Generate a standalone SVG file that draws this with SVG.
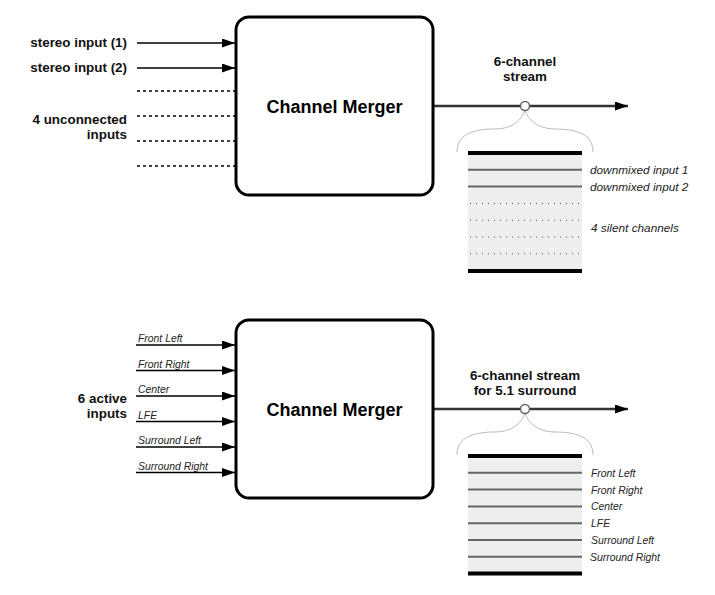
<svg xmlns="http://www.w3.org/2000/svg" width="715" height="595" viewBox="0 0 715 595">
<style>
.lbl{font-family:"Liberation Sans",Arial,sans-serif;font-weight:bold;font-size:13.4px;fill:#111}
.title{font-family:"Liberation Sans",Arial,sans-serif;font-weight:bold;font-size:18px;fill:#000}
.it{font-family:"Liberation Sans",Arial,sans-serif;font-style:italic;font-size:10.4px;fill:#222}
.it2{font-family:"Liberation Sans",Arial,sans-serif;font-style:italic;font-size:11.8px;fill:#222}
.box{fill:#fff;stroke:#000;stroke-width:3}
.in{stroke:#000;stroke-width:1.5;fill:none}
.dash{stroke:#000;stroke-width:1.5;stroke-dasharray:3 3;fill:none}
.out{stroke:#333;stroke-width:2.5;fill:none}
.brace{stroke:#bbb;stroke-width:1;fill:none}
.node{fill:#fff;stroke:#666;stroke-width:1.5}
.thick{stroke:#000;stroke-width:4}
.ch{stroke:#666;stroke-width:2}
.dot{stroke:#555;stroke-width:1;stroke-dasharray:1 5}
.stack{fill:#eee}
</style>
<defs>
<marker id="arr" markerUnits="userSpaceOnUse" markerWidth="13" markerHeight="9" refX="13" refY="4.5" orient="auto">
<path d="M0,0 L13,4.5 L0,9 z" fill="#000"/>
</marker>
</defs>
<rect width="715" height="595" fill="#fff"/>

<g id="connectors">
<line class="in" x1="137" y1="43" x2="235" y2="43" marker-end="url(#arr)"/>
<line class="in" x1="137" y1="68" x2="235" y2="68" marker-end="url(#arr)"/>
<line class="dash" x1="137" y1="91" x2="235" y2="91"/>
<line class="dash" x1="137" y1="116" x2="235" y2="116"/>
<line class="dash" x1="137" y1="141" x2="235" y2="141"/>
<line class="dash" x1="137" y1="166" x2="235" y2="166"/>
<line class="out" x1="434" y1="106" x2="628" y2="106" marker-end="url(#arr)"/>

<line class="in" x1="136" y1="345" x2="235" y2="345" marker-end="url(#arr)"/>
<line class="in" x1="136" y1="370.5" x2="235" y2="370.5" marker-end="url(#arr)"/>
<line class="in" x1="136" y1="396" x2="235" y2="396" marker-end="url(#arr)"/>
<line class="in" x1="136" y1="421.5" x2="235" y2="421.5" marker-end="url(#arr)"/>
<line class="in" x1="136" y1="447" x2="235" y2="447" marker-end="url(#arr)"/>
<line class="in" x1="136" y1="472.5" x2="235" y2="472.5" marker-end="url(#arr)"/>
<line class="out" x1="434" y1="409" x2="628" y2="409" marker-end="url(#arr)"/>
</g>

<g id="labels-top">
<text class="lbl" x="127" y="47" text-anchor="end">stereo input (1)</text>
<text class="lbl" x="127" y="72" text-anchor="end">stereo input (2)</text>
<text class="lbl" x="127" y="124" text-anchor="end">4 unconnected</text>
<text class="lbl" x="127" y="139" text-anchor="end">inputs</text>
<text class="lbl" x="525" y="66" text-anchor="middle">6-channel</text>
<text class="lbl" x="525" y="81" text-anchor="middle">stream</text>
</g>

<g id="merger1">
<rect class="box" x="236" y="17" width="197" height="178" rx="13"/>
<text class="title" x="334.5" y="113" text-anchor="middle">Channel Merger</text>
</g>

<g id="stream1">
<path class="brace" d="M457,152 C457,136 470,129 495,129 C512,129 522,120 525,110 C528,120 538,129 555,129 C580,129 593,136 593,152"/>
<circle class="node" cx="525" cy="106" r="4.5"/>
<rect class="stack" x="468" y="153" width="114" height="118"/>
<line class="thick" x1="468" y1="153" x2="582" y2="153"/>
<line class="ch" x1="468" y1="169.8" x2="582" y2="169.8"/>
<line class="ch" x1="468" y1="186.6" x2="582" y2="186.6"/>
<line class="dot" x1="470" y1="203.4" x2="582" y2="203.4"/>
<line class="dot" x1="470" y1="220.2" x2="582" y2="220.2"/>
<line class="dot" x1="470" y1="237" x2="582" y2="237"/>
<line class="dot" x1="470" y1="253.8" x2="582" y2="253.8"/>
<line class="thick" x1="468" y1="271" x2="582" y2="271"/>
<text class="it2" x="590" y="174">downmixed input 1</text>
<text class="it2" x="590" y="191">downmixed input 2</text>
<text class="it2" x="591" y="232">4 silent channels</text>
</g>

<g id="labels-bottom">
<text class="lbl" x="127" y="403" text-anchor="end">6 active</text>
<text class="lbl" x="127" y="418" text-anchor="end">inputs</text>
<text class="it" x="138" y="342">Front Left</text>
<text class="it" x="138" y="367.5">Front Right</text>
<text class="it" x="138" y="393">Center</text>
<text class="it" x="138" y="418.5">LFE</text>
<text class="it" x="138" y="444">Surround Left</text>
<text class="it" x="138" y="469.5">Surround Right</text>
<text class="lbl" x="525" y="380" text-anchor="middle">6-channel stream</text>
<text class="lbl" x="525" y="395" text-anchor="middle">for 5.1 surround</text>
</g>

<g id="merger2">
<rect class="box" x="236" y="320" width="197" height="178" rx="13"/>
<text class="title" x="334.5" y="416" text-anchor="middle">Channel Merger</text>
</g>

<g id="stream2">
<path class="brace" d="M457,455 C457,439 470,432 495,432 C512,432 522,423 525,413 C528,423 538,432 555,432 C580,432 593,439 593,455"/>
<circle class="node" cx="525" cy="409" r="4.5"/>
<rect class="stack" x="468" y="456" width="114" height="117.6"/>
<line class="thick" x1="468" y1="456" x2="582" y2="456"/>
<line class="ch" x1="468" y1="472.8" x2="582" y2="472.8"/>
<line class="ch" x1="468" y1="489.6" x2="582" y2="489.6"/>
<line class="ch" x1="468" y1="506.4" x2="582" y2="506.4"/>
<line class="ch" x1="468" y1="523.2" x2="582" y2="523.2"/>
<line class="ch" x1="468" y1="540" x2="582" y2="540"/>
<line class="ch" x1="468" y1="556.8" x2="582" y2="556.8"/>
<line class="thick" x1="468" y1="573.6" x2="582" y2="573.6"/>
<text class="it" x="591" y="476.8">Front Left</text>
<text class="it" x="591" y="493.6">Front Right</text>
<text class="it" x="591" y="510.4">Center</text>
<text class="it" x="591" y="527.2">LFE</text>
<text class="it" x="591" y="544">Surround Left</text>
<text class="it" x="590" y="560.8">Surround Right</text>
</g>
</svg>
